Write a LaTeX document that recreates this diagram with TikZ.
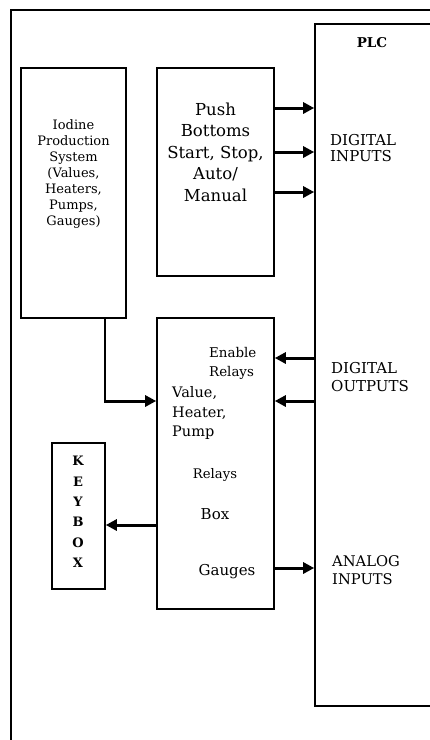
\documentclass[tikz,border=0pt]{standalone}
\usepackage{fontspec}
\setmainfont{DejaVu Serif}
\usetikzlibrary{arrows.meta,positioning}

\begin{document}
\begin{tikzpicture}[x=1pt,y=-1pt,
  blockbox/.style={draw, line width=1.6pt, inner sep=0pt},
  lbl/.style={font=\fontsize{13}{16}\selectfont, inner sep=0pt},
  sig/.style={line width=3pt, -{Triangle[length=11pt,width=11pt]}}]
\useasboundingbox (0,0) rectangle (430,740);
\fill[white] (0,0) rectangle (430,740);
\clip (0,0) rectangle (430,740);
% outer frame
\draw[line width=1.6pt] (11,760) -- (11,10) -- (450,10);
% blocks
\node[blockbox, minimum width=105pt, minimum height=250pt] (iodine) at (73.5,193) {};
\node[blockbox, minimum width=117pt, minimum height=208pt] (push) at (215.5,172) {};
\node[blockbox, minimum width=117pt, minimum height=291pt] (relays) at (215.5,463.5) {};
\node[blockbox, minimum width=53pt, minimum height=146pt] (keybox) at (78.5,516) {};
\node[blockbox, minimum width=145pt, minimum height=682pt] (plc) at (387.5,365) {};
% texts
\node[lbl, align=center] (iodtext) at (73.5,174) {Iodine\\Production\\System\\(Values,\\Heaters,\\Pumps,\\Gauges)};
\node[lbl, align=center, font=\fontsize{16.5}{21.5}\selectfont] (pushtext) at (215.5,152) {Push\\Bottoms\\Start, Stop,\\Auto/\\Manual};
\node[lbl, font=\bfseries\fontsize{13.5}{16}\selectfont] (plctext) at (372,43) {PLC};
\node[lbl, align=left, anchor=west, font=\fontsize{15}{16}\selectfont] (dintext) at (330,148) {DIGITAL\\INPUTS};
\node[lbl, align=left, anchor=west, font=\fontsize{15}{18}\selectfont] (douttext) at (331,377) {DIGITAL\\OUTPUTS};
\node[lbl, align=left, anchor=west, font=\fontsize{14.7}{18}\selectfont] (aintext) at (332,570) {ANALOG\\INPUTS};
\node[lbl, align=left, anchor=west, font=\fontsize{13.4}{19}\selectfont] (enabletext) at (209,363) {Enable\\Relays};
\node[lbl, align=left, anchor=west, font=\fontsize{14.5}{19.5}\selectfont] (valvetext) at (172,413) {Value,\\Heater,\\Pump};
\node[lbl, font=\fontsize{13.2}{16}\selectfont] (relaytext) at (215,475) {Relays};
\node[lbl, font=\fontsize{15}{16}\selectfont] (boxtext) at (215,514) {Box};
\node[lbl, font=\fontsize{15}{16}\selectfont] (gaugetext) at (227,572) {Gauges};
\node[lbl, align=center, font=\bfseries\fontsize{13}{20.4}\selectfont] (keytext) at (78,512) {K\\E\\Y\\B\\O\\X};
% signal levels
\coordinate (in1) at (0,108);
\coordinate (in2) at (0,152);
\coordinate (in3) at (0,192);
\coordinate (out1) at (0,358);
\coordinate (out2) at (0,401);
\coordinate (feed) at (105,401);
\coordinate (keyline) at (0,525);
\coordinate (gauge) at (0,568);
% connectors
\foreach \lvl in {in1,in2,in3,gauge}
  \draw[sig] (push.east |- \lvl) -- (plc.west |- \lvl);
\foreach \lvl in {out1,out2}
  \draw[sig] (plc.west |- \lvl) -- (relays.east |- \lvl);
\draw[line width=1.6pt] (iodine.south -| feed) -- (feed);
\draw[sig] ([xshift=-0.8pt]feed) -- (relays.west |- feed);
\draw[sig] (relays.west |- keyline) -- (keybox.east |- keyline);
\end{tikzpicture}
\end{document}
